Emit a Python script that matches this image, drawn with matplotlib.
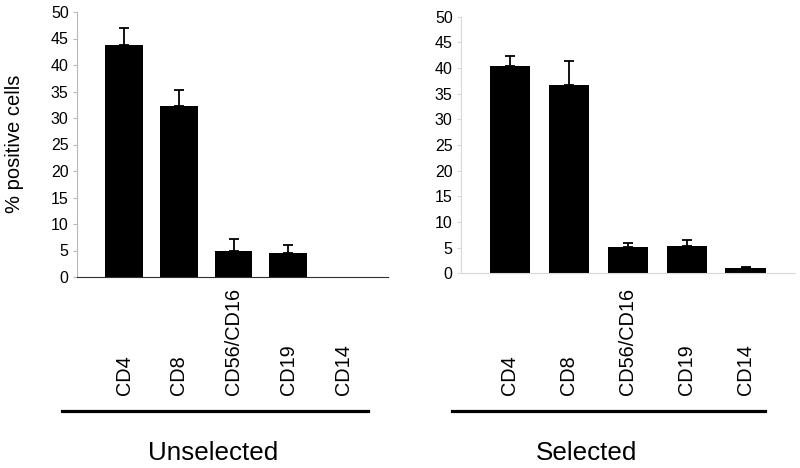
import numpy as np
import matplotlib
matplotlib.use("Agg")
import matplotlib.pyplot as plt
from matplotlib.lines import Line2D
import matplotlib.transforms as mtransforms

plt.rcParams['font.family'] = ['Liberation Sans', 'DejaVu Sans']

markers = ['CD4', 'CD8', 'CD56/CD16', 'CD19', 'CD14']

# % positive cells, mean and upper error
unsel_mean = [43.8, 32.3, 5.0, 4.5, 0.0]
unsel_err = [3.2, 3.0, 2.1, 1.6, 0.0]
sel_mean = [40.3, 36.6, 5.1, 5.4, 1.0]
sel_err = [2.1, 4.7, 0.8, 1.1, 0.2]

groups = ['Unselected', 'Selected']
yticks = [0, 5, 10, 15, 20, 25, 30, 35, 40, 45, 50]

fig = plt.figure(figsize=(8, 4.68), dpi=100)

def draw_panel(rect, means, errs, xlim, width, ycol, xcol):
    ax = fig.add_axes(rect)
    x = np.arange(len(means))
    ax.bar(x, means, width, color='black', zorder=2)
    # only draw error bars where there is an error
    m = np.array(errs) > 0
    ax.errorbar(x[m], np.array(means)[m], yerr=[np.zeros(m.sum()), np.array(errs)[m]],
                fmt='none', ecolor='black', elinewidth=1.3, capsize=3.6,
                capthick=1.3, zorder=3)
    ax.set_xlim(xlim)
    ax.set_ylim(0, 50)
    ax.set_yticks(yticks)
    ax.set_xticks([])
    for s in ['top', 'right']:
        ax.spines[s].set_visible(False)
    ax.spines['left'].set_color(ycol)
    ax.spines['bottom'].set_color(xcol)
    ax.tick_params(axis='y', colors=ycol, labelcolor='black', labelsize=11.5,
                   length=3, width=0.8, pad=3)
    # category labels under bars
    trans = mtransforms.blended_transform_factory(ax.transData, fig.transFigure)
    for i, lab in enumerate(markers):
        ax.text(i, 0.156, lab, transform=trans, rotation=90, ha='center',
                va='bottom', fontsize=14.3)
    return ax

ax1 = draw_panel([77/800, 1-277/468, 311/800, 265/468], unsel_mean, unsel_err,
                 (-0.86, 4.82), 0.69, '#b8b8b8', '#303030')
ax2 = draw_panel([461/800, 1-273.3/468, 334/800, 256.7/468], sel_mean, sel_err,
                 (-0.83, 4.84), 0.68, '#d8d8d8', '#d8d8d8')

fig.text(15/800, 1-144/468, '% positive cells', rotation=90, ha='center',
         va='center', fontsize=14.5)

# group lines and labels
y_line = 1 - 411/468
fig.add_artist(Line2D([62/800, 368/800], [y_line, y_line], color='black', lw=2.3))
fig.add_artist(Line2D([452/800, 765/800], [y_line, y_line], color='black', lw=2.3))
fig.text(213/800, 1-453/468, groups[0], ha='center', va='center', fontsize=18.7)
fig.text(587/800, 1-453/468, groups[1], ha='center', va='center', fontsize=18.7)

fig.savefig('out.png', dpi=100)
